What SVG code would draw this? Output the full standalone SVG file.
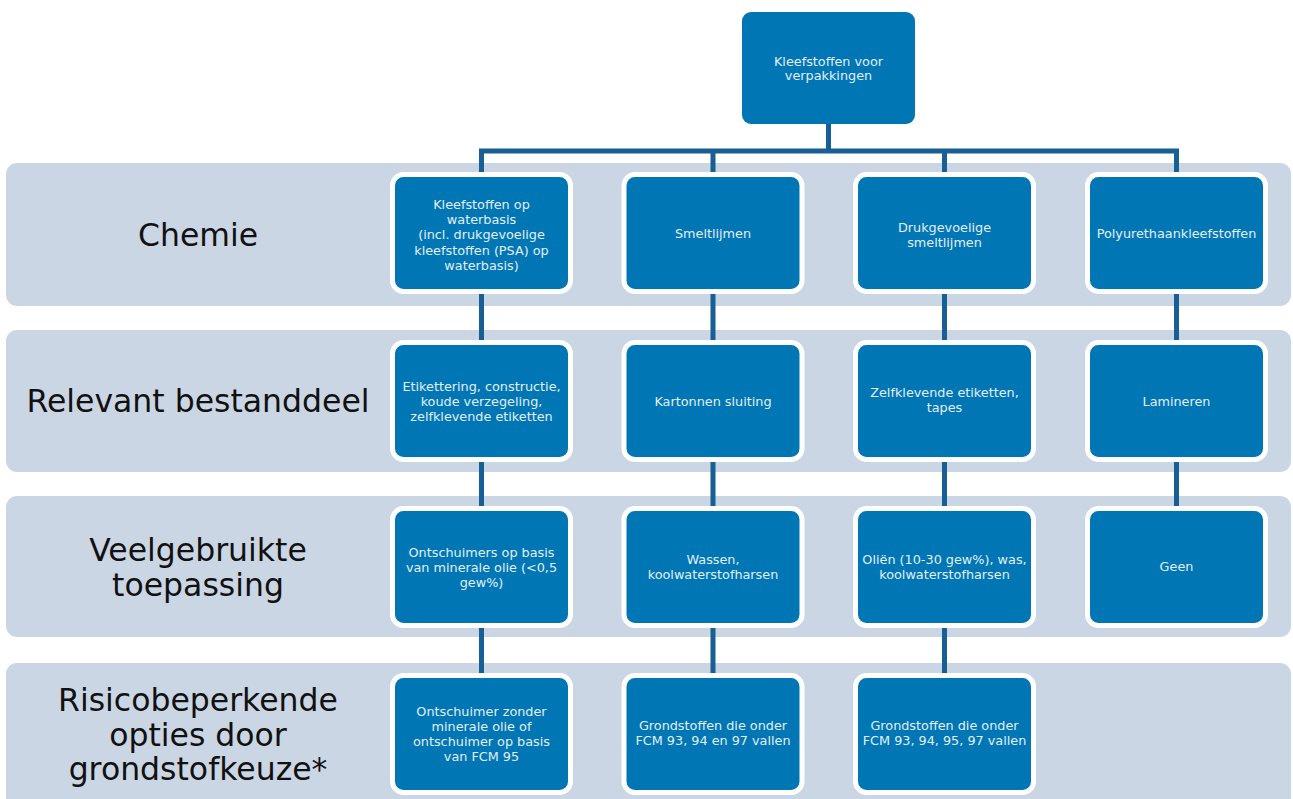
<svg xmlns="http://www.w3.org/2000/svg" width="1293" height="799" viewBox="0 0 1293 799">
<style>
.band{fill:#cbd6e4}
.node{fill:#0077b4;stroke:#ffffff;stroke-width:5}
.top{fill:#0077b4}
.conn{stroke:#175f94;stroke-width:5;fill:none}
.nt{font-family:"DejaVu Sans",sans-serif;font-size:12.8px;fill:#e4eef7;text-anchor:middle}
.lb{font-family:"DejaVu Sans",sans-serif;font-size:31.5px;fill:#111111;text-anchor:middle}
</style>
<rect width="1293" height="799" fill="#ffffff"/>
<g id="bands">
<rect class="band" x="6" y="163" width="1285" height="143" rx="11"/>
<rect class="band" x="6" y="330" width="1285" height="142" rx="11"/>
<rect class="band" x="6" y="496" width="1285" height="141" rx="11"/>
<rect class="band" x="6" y="663" width="1285" height="150" rx="11"/>
</g>
<g id="row-labels">
<text class="lb" x="198" y="245.5">Chemie</text>
<text class="lb" x="198" y="411.5">Relevant bestanddeel</text>
<text class="lb" x="198" y="561">Veelgebruikte</text>
<text class="lb" x="198" y="596">toepassing</text>
<text class="lb" x="198" y="711">Risicobeperkende</text>
<text class="lb" x="198" y="745.5">opties door</text>
<text class="lb" x="198" y="780">grondstofkeuze*</text>
</g>
<g id="connectors">
<line class="conn" x1="828.5" y1="124" x2="828.5" y2="151"/>
<line class="conn" x1="479" y1="151" x2="1179" y2="151"/>
<line class="conn" x1="481.5" y1="151" x2="481.5" y2="676"/>
<line class="conn" x1="713" y1="151" x2="713" y2="676"/>
<line class="conn" x1="944.5" y1="151" x2="944.5" y2="676"/>
<line class="conn" x1="1176.5" y1="151" x2="1176.5" y2="510"/>
</g>
<g id="n-root">
<rect class="top" x="742" y="12" width="173" height="112" rx="9"/>
<text class="nt" x="828.5" y="65.5">Kleefstoffen voor</text>
<text class="nt" x="828.5" y="79.5">verpakkingen</text>
</g>
<g id="n-chem-1">
<rect class="node" x="392.5" y="174.5" width="178" height="117" rx="11"/>
<text class="nt" x="481.5" y="209">Kleefstoffen op</text>
<text class="nt" x="481.5" y="224.2">waterbasis</text>
<text class="nt" x="481.5" y="239.4">(incl. drukgevoelige</text>
<text class="nt" x="481.5" y="254.6">kleefstoffen (PSA) op</text>
<text class="nt" x="481.5" y="269.8">waterbasis)</text>
</g>
<g id="n-chem-2">
<rect class="node" x="624" y="174.5" width="178" height="117" rx="11"/>
<text class="nt" x="713" y="238">Smeltlijmen</text>
</g>
<g id="n-chem-3">
<rect class="node" x="855.5" y="174.5" width="178" height="117" rx="11"/>
<text class="nt" x="944.5" y="231.5">Drukgevoelige</text>
<text class="nt" x="944.5" y="246.5">smeltlijmen</text>
</g>
<g id="n-chem-4">
<rect class="node" x="1087.5" y="174.5" width="178" height="117" rx="11"/>
<text class="nt" x="1176.5" y="238">Polyurethaankleefstoffen</text>
</g>
<g id="n-rel-1">
<rect class="node" x="392.5" y="342.5" width="178" height="117" rx="11"/>
<text class="nt" x="481.5" y="390.5">Etikettering, constructie,</text>
<text class="nt" x="481.5" y="405.5">koude verzegeling,</text>
<text class="nt" x="481.5" y="420.5">zelfklevende etiketten</text>
</g>
<g id="n-rel-2">
<rect class="node" x="624" y="342.5" width="178" height="117" rx="11"/>
<text class="nt" x="713" y="405.5">Kartonnen sluiting</text>
</g>
<g id="n-rel-3">
<rect class="node" x="855.5" y="342.5" width="178" height="117" rx="11"/>
<text class="nt" x="944.5" y="397">Zelfklevende etiketten,</text>
<text class="nt" x="944.5" y="412">tapes</text>
</g>
<g id="n-rel-4">
<rect class="node" x="1087.5" y="342.5" width="178" height="117" rx="11"/>
<text class="nt" x="1176.5" y="405.5">Lamineren</text>
</g>
<g id="n-toe-1">
<rect class="node" x="392.5" y="508.5" width="178" height="117" rx="11"/>
<text class="nt" x="481.5" y="556.5">Ontschuimers op basis</text>
<text class="nt" x="481.5" y="571.5">van minerale olie (&lt;0,5</text>
<text class="nt" x="481.5" y="586.5">gew%)</text>
</g>
<g id="n-toe-2">
<rect class="node" x="624" y="508.5" width="178" height="117" rx="11"/>
<text class="nt" x="713" y="563.5">Wassen,</text>
<text class="nt" x="713" y="578.5">koolwaterstofharsen</text>
</g>
<g id="n-toe-3">
<rect class="node" x="855.5" y="508.5" width="178" height="117" rx="11"/>
<text class="nt" x="944.5" y="563.5">Oliën (10-30 gew%), was,</text>
<text class="nt" x="944.5" y="578.5">koolwaterstofharsen</text>
</g>
<g id="n-toe-4">
<rect class="node" x="1087.5" y="508.5" width="178" height="117" rx="11"/>
<text class="nt" x="1176.5" y="570.5">Geen</text>
</g>
<g id="n-ris-1">
<rect class="node" x="392.5" y="675.5" width="178" height="117" rx="11"/>
<text class="nt" x="481.5" y="715.5">Ontschuimer zonder</text>
<text class="nt" x="481.5" y="730.5">minerale olie of</text>
<text class="nt" x="481.5" y="745.5">ontschuimer op basis</text>
<text class="nt" x="481.5" y="760.5">van FCM 95</text>
</g>
<g id="n-ris-2">
<rect class="node" x="624" y="675.5" width="178" height="117" rx="11"/>
<text class="nt" x="713" y="729.5">Grondstoffen die onder</text>
<text class="nt" x="713" y="745">FCM 93, 94 en 97 vallen</text>
</g>
<g id="n-ris-3">
<rect class="node" x="855.5" y="675.5" width="178" height="117" rx="11"/>
<text class="nt" x="944.5" y="729.5">Grondstoffen die onder</text>
<text class="nt" x="944.5" y="745">FCM 93, 94, 95, 97 vallen</text>
</g>
</svg>
